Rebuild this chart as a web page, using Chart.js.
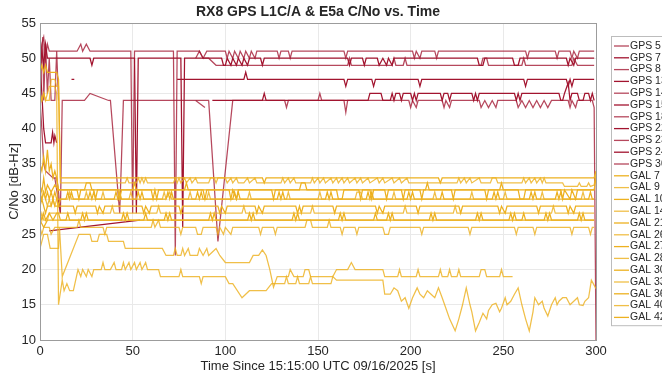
<!DOCTYPE html>
<html>
<head>
<meta charset="utf-8">
<script src="https://cdn.jsdelivr.net/npm/chart.js@4.4.1/dist/chart.umd.min.js"></script>
<style>
  html, body { margin: 0; padding: 0; background: #fff; overflow: hidden; }
  #wrap { width: 662px; height: 376px; }
</style>
</head>
<body>
<div id="wrap"><canvas id="cnoChart" width="662" height="376"></canvas></div>
<script>
const titleText = 'RX8 GPS L1C/A & E5a C/No vs. Time';
const xTitle = 'Time Since 15:15:00 UTC 09/16/2025 [s]';
const yTitle = 'C/No [dB-Hz]';
const xTicks = [0, 50, 100, 150, 200, 250, 300];
const yTicks = [10, 15, 20, 25, 30, 35, 40, 45, 50, 55];

const gpsNames = ['GPS 5', 'GPS 7', 'GPS 8', 'GPS 13', 'GPS 14', 'GPS 15', 'GPS 18', 'GPS 22', 'GPS 23', 'GPS 24', 'GPS 30'];
const galNames = ['GAL 7', 'GAL 9', 'GAL 10', 'GAL 14', 'GAL 21', 'GAL 26', 'GAL 27', 'GAL 28', 'GAL 30', 'GAL 33', 'GAL 36', 'GAL 40', 'GAL 42'];

// [time s, C/No dB-Hz] vertices, null = no track
const gps5 = [[0,50],[1,52],[2,53],[3,50],[4,52],[5,51],[20,51],[22,52],[23,51],[25,52],[27,51],[49,51],[50,28],[51,51],[72,51],[73,22],[74,51],[86,51],[88,50],[90,51],[100,51],[101,50],[102,51],[104,50],[105,51],[107,50],[108,51],[110,50],[111,51],[113,50],[114,51],[116,50],[117,51],[128,51],[129,50],[130,51],[134,51],[135,50],[136,51],[164,51],[165,50],[166,51],[201,51],[202,50],[203,51],[205,50],[206,51],[213,51],[214,50],[215,51],[262,51],[263,50],[264,51],[278,51],[279,50],[280,51],[286,51],[287,50],[288,51],[290,50],[291,51],[299,51]];
const gps7 = [[0,48],[1,51],[2,49],[3,52],[4,50],[27,50],[28,49],[29,50],[51,50],[52,28],[53,50],[76,50],[77,26],[78,50],[98,50],[99,49],[100,49],[101,50],[103,49],[104,50],[106,49],[107,50],[109,49],[110,50],[112,49],[113,50],[119,50],[120,49],[121,50],[166,50],[167,49],[168,50],[174,50],[175,49],[176,50],[182,50],[183,49],[185,50],[187,49],[188,50],[190,49],[191,50],[236,50],[237,49],[239,49],[240,50],[255,50],[256,49],[258,49],[259,50],[284,50],[285,49],[286,50],[288,49],[289,50],[299,50]];
const gps8 = [[84,50],[86,51],[88,50],[91,50],[95,49],[150,49],[166,49],[167,50],[168,49],[190,49],[191,50],[192,49],[196,49],[197,50],[198,49],[238,49],[239,50],[241,50],[242,49],[260,49],[261,50],[262,49],[287,49],[288,50],[290,49],[299,49]];
const gps13 = [[17,47],[18.5,47],[19,null],[74,47],[110,47],[111,48],[112,47],[164,47],[165,46],[166,47],[179,47],[180,46],[181,47],[204,47],[205,46],[206,47],[261,47],[262,46],[263,47],[284,47],[285,46],[286,47],[287,46],[288,47],[299,47]];
const gps14 = [[8,33],[11,28],[12,44],[24,44],[27,45],[37,44],[38,44],[43,28],[45,44],[91,44],[96,24],[104,44],[132,44],[133,43],[134,44],[150,44],[151,45],[152,44],[164,44],[165,42.3],[166,44],[199,44],[200,43],[201,44],[203,43],[204,44],[217,44],[218,43],[219,44],[221,43],[222,44],[237,44],[238,43],[240,44],[242,43],[244,44],[246,43],[247,44],[257,44],[258,43],[260,44],[262,43],[264,44],[266,43],[268,44],[270,43],[272,44],[274,43],[276,44],[285,44],[286,43],[287,44],[289,43],[290,44],[298,44],[299,43],[300,10]];
const gps15 = [[93,44],[120,44],[121,45],[122,44],[177,44],[178,45],[184,45],[185,44],[189,44],[190,45],[191,44],[192,45],[194,45],[195,44],[196,45],[200,45],[201,44],[202,45],[203,44],[204,45],[216,45],[217,44],[218,45],[220,45],[221,44],[222,45],[233,45],[234,44],[235,45],[236,44],[237,45],[256,45],[257,44],[258,45],[259,44],[260,45],[280,45],[281,44],[282,44],[283,45],[285,46.5],[286,44],[287,45],[290,45],[291,44],[293,44],[294,45],[296,45],[297,44],[298,45],[299,44]];
const gps18 = [[0,42],[1,51],[1.5,53],[2,44],[3,52],[4,45],[5,50],[6,44],[8,44],[9,51],[10,44]];
const gps22 = [[0,49],[1,45],[2,40],[3,38],[6,38],[6.8,39.5],[7.5,38],[8,39],[9,38]];
const gps23 = [[0,44],[1,40],[2,35],[3,34],[7,33],[9,33],[10,31],[11,28]];
const gps24 = [[5,25.5],[54,27]];
const gps30 = [[84,44],[89,43]];

const gal7 = [[0,48],[1,49],[2,48],[3,49],[4,48],[9,48],[10,47],[11,33],[120,33],[121,32.3],[122,33],[215,33],[216,32.3],[217,33],[299,33],[300,34]];
const gal9 = [[0,45],[1,44],[2,45],[3,44],[5,44],[6,47],[8,47],[9,46],[10,46],[11,32.3],[46,32.3],[47,33],[48,32.3],[52,32.3],[53,33],[54,32.3],[55,33],[56,32.3],[57,33],[58,32.3],[72,32.3],[73,33],[74,32.3],[75,33],[76,32.3],[78,33],[79,32.3],[81,33],[82,32.3],[84,33],[85,32.3],[91,32.3],[92,33],[94,33],[95,32.3],[96,33],[100,33],[101,32.3],[103,33],[104,32.3],[106,33],[107,32.3],[110,32.3],[112,33],[113,32.3],[116,33],[117,32.3],[130,32.3],[131,33],[132,32.3],[134,33],[135,32.3],[137,33],[138,32.3],[146,32.3],[147,33],[148,32.3],[150,33],[151,32.3],[153,33],[154,32.3],[157,33],[158,32.3],[160,33],[161,32.3],[163,33],[164,32.3],[166,33],[167,32.3],[170,33],[171,32.3],[173,33],[174,32.3],[177,33],[178,32.3],[182,33],[183,32.3],[185,33],[186,32.3],[190,33],[191,32.3],[194,33],[195,32.3],[198,33],[199,32.3],[225,32.3],[226,33],[227,32.3],[229,33],[230,32.3],[232,33],[233,32.3],[237,33],[238,32.3],[243,32.3],[244,33],[246,33],[247,32.3],[260,32.3],[261,33],[262,32.3],[264,33],[265,32.3],[267,33],[268,32.3],[270,33],[271,32.3],[272,33],[273,32.3],[282,32.3],[283,31.8],[290,31.8],[291,32.3],[292,31.8],[295,31.8],[296,32.3],[297,31.8],[299,32],[300,33.5]];
const gal10 = [[0,35],[1,34],[2,36],[3,34],[4,37],[5,34],[6,35],[7,33],[8,34],[9,33],[10,31.3],[20,31.3],[21,30],[22,31.3],[29,31.3],[30,30],[31,31.3],[42,31.3],[43,30],[44,31.3],[60,31.3],[61,30],[62,31.3],[63,30],[64,31.3],[88,31.3],[89,30],[90,31.3],[102,31.3],[103,30],[104,31.3],[106,30],[107,31.3],[125,31.3],[126,30],[127,31.3],[160,31.3],[161,30],[163,30],[164,31.3],[172,31.3],[173,30],[174,31.3],[178,31.3],[179,30],[180,31.3],[186,31.3],[187,30],[188,31.3],[195,31.3],[196,30],[197,31.3],[205,31.3],[206,30],[207,31.3],[222,31.3],[223,30],[224,31.3],[240,31.3],[241,30],[242,31.3],[258,31.3],[259,30],[261,30],[262,31.3],[281,31.3],[282,30],[283,31.3],[286,30],[287,31.3],[289,30],[290,31.3],[299,31.3]];
const gal14 = [[0,30],[1,30],[2,31],[3,30],[4,29],[5,30],[6,29],[7,30],[8,29],[9,30],[15,30],[16,31],[17,30],[24,30],[25,31],[26,30],[33,30],[34,31],[35,30],[48,30],[49,31],[50,30],[66,30],[67,31],[68,30],[70,31],[71,30],[80,30],[81,31],[82,30],[90,30],[91,31],[92,30],[112,30],[113,31],[114,30],[133,30],[134,31],[135,30],[150,30],[151,31],[152,30],[170,30],[171,31],[173,31],[174,30],[190,30],[191,31],[192,30],[212,30],[213,31],[214,30],[232,30],[233,31],[234,30],[250,30],[251,31],[252,30],[270,30],[271,31],[272,30],[292,30],[293,31],[294,30],[299,30]];
const gal21 = [[0,29],[1,30],[2,29],[3,28],[4,29],[6,29],[7,30],[8,29],[18,29],[19,28],[20,29],[30,29],[31,28],[32,29],[34,28],[35,29],[55,29],[56,28],[57,29],[59,28],[60,29],[75,29],[76,28],[77,29],[96,29],[97,28],[98,29],[100,28],[101,29],[116,29],[117,28],[118,29],[120,28],[121,29],[138,29],[139,28],[140,29],[141,28],[142,29],[158,29],[159,28],[160,29],[181,29],[182,28],[183,29],[185,28],[186,29],[203,29],[204,28],[205,29],[226,29],[227,28],[228,29],[247,29],[248,28],[249,29],[251,28],[252,29],[268,29],[269,28],[270,29],[284,29],[285,28],[286,29],[288,28],[289,29],[299,29]];
const gal26 = [[0,27],[1,28],[2,27],[4,27],[5,28],[38,28],[39,29],[40,28],[63,28],[64,29],[65,28],[109,28],[110,29],[111,28],[146,28],[147,29],[148,28],[196,28],[197,29],[198,28],[223,28],[224,29],[225,28],[276,28],[277,29],[278,28],[299,28]];
const gal27 = [[0,27],[2,26],[4,27],[56,27],[57,28],[58,27],[180,27],[181,28],[182,27],[260,27],[261,28],[262,27],[299,27]];
const gal28 = [[0,26],[1,25],[2,26],[5,26],[6,25],[8,26],[20,26],[21,27],[22,26],[34,26],[35,25],[36,26],[60,26],[61,27],[62,26],[64,27],[65,26],[75,26],[76,25],[77,26],[84,26],[85,25],[87,25],[88,26],[95,26],[96,25],[97,26],[99,25],[100,26],[103,25],[104,26],[118,26],[119,25],[120,26],[126,26],[127,25],[128,26],[143,26],[144,27],[146,27],[147,26],[155,26],[156,27],[157,26],[162,26],[163,25],[164,26],[170,26],[171,25],[172,26],[185,26],[186,25],[188,25],[189,26],[205,26],[206,25],[207,26],[231,26],[232,25],[233,26],[256,26],[257,25],[258,26],[266,26],[267,25],[268,26],[286,26],[287,25],[288,26],[296,26],[297,25],[298,26],[299,26]];
const gal30 = [[0,31],[1,30],[2,31],[3,30],[4,31],[5,30],[6,31],[7,30],[8,31],[9,30],[10,29],[11,30],[14,30],[15,31],[16,30],[17,31],[18,30],[26,30],[27,31],[28,30],[29,31],[30,30],[40,30],[41,31],[42,30],[43,31],[44,30],[52,30],[53,31],[54,30],[55,31],[56,30],[68,30],[69,31],[70,30],[71,31],[72,30],[84,30],[85,31],[86,30],[87,31],[88,30],[104,30],[105,31],[106,30],[107,31],[108,30],[128,30],[129,31],[130,30],[131,31],[132,30],[154,30],[155,31],[156,30],[157,31],[158,30],[176,30],[177,31],[178,30],[179,31],[180,30],[198,30],[199,31],[200,30],[201,31],[202,30],[216,30],[217,31],[218,30],[244,30],[245,31],[246,30],[247,31],[248,30],[264,30],[265,31],[266,30],[267,31],[268,30],[278,30],[279,31],[280,30],[281,31],[282,30],[296,30],[297,31],[298,30],[299,30]];
const gal33 = [[0,23],[1,24],[2,25],[4,25],[5.5,23],[10,23],[10.5,26],[12,19],[21,25],[27,25],[28,24],[31,24],[32,25],[36,25],[37,24],[45,24],[46,23],[66,23],[68,22],[72,22],[73,23],[74,22],[76,22],[77,23],[78,22],[80,23],[81,22],[85,22],[86,23],[88,22],[90,23],[91,22],[95,23],[97,22],[100,21],[113,21],[115,22],[118,22],[120,22.8],[122,22],[124,20],[126,17.5],[128,19],[134,19],[135,20],[137,19],[142,19],[143,20],[145,20],[146,19],[158,19],[160,20],[166,20],[168,21],[170,20],[185,20],[186,19],[193,19],[194,20],[195,19],[203,19],[204,20],[205,19],[215,19],[216,20],[217,19],[220,19],[221,20],[222,19],[225,19],[226,20],[227,19],[237,19],[238,20],[240,20],[241,19],[248,19],[249,20],[250,19],[255,19]];
const gal36 = [[0,28],[1,27],[2,28],[3,27],[5,28],[7,27],[9,28],[10,28],[11,27],[14,27],[15,28],[16,27],[22,27],[23,28],[24,27],[25,28],[26,27],[44,27],[45,28],[46,27],[47,28],[48,27],[67,27],[68,28],[69,27],[70,28],[71,27],[91,27],[92,28],[93,27],[94,28],[95,27],[112,27],[113,28],[114,27],[115,28],[116,27],[136,27],[137,28],[138,27],[139,28],[140,27],[161,27],[162,28],[163,27],[164,28],[165,27],[187,27],[188,28],[189,27],[190,28],[191,27],[210,27],[211,28],[212,27],[213,28],[214,27],[235,27],[236,28],[237,27],[238,28],[239,27],[253,27],[254,28],[255,27],[256,28],[257,27],[272,27],[273,28],[274,27],[275,28],[276,27],[290,27],[291,28],[292,27],[293,28],[294,27],[299,27]];
const gal40 = [[0,45],[1,44],[2,45],[3,44],[5,46],[8,46],[9,45],[10,15],[12,18.5],[13,17],[14.5,18],[16,17],[18,17],[20.5,20],[22,19],[23,20],[25,19],[26,20],[28,19],[29,20],[33,20],[34,21],[35,20],[38,20],[40,21],[41,20],[44,20],[45,21],[46,20],[48,21],[49,20],[51,21],[52,20],[54,21],[55,20],[57,21],[58,20],[64,20],[65,19],[75,19],[76,20],[77,19],[86,19],[87,18],[88,19],[100,19],[102,18],[104,18],[109,16],[113,17],[122,17],[125,18],[132,18],[133,19],[134,18],[138,18],[139,19],[140,18],[145,18],[146,19],[147,18],[157,18],[158,19],[160,18.5],[185,18.5],[186,16.5],[189,16.5],[191,17.4],[193,17],[195,15.5],[197,16],[199,14.5],[201,16],[203.5,17.4],[205,16.5],[207,16],[209,17],[211,16.5],[213,16],[215,17.4],[217,16],[219,14.5],[221,13],[224,11.3],[226,13],[228,15],[230,17.4],[232,15],[233,14],[235,11.3],[237,12.5],[239,13.8],[241,13],[242,14.2],[244,15],[246,15.2],[248,14],[249,14.5],[251,16],[252,15],[254,15.5],[256,16.5],[258,17.4],[260,15],[262,13],[264,11.3],[266,14],[267,16],[269,15],[271,15.5],[272,14.5],[274,13.4],[276,15],[278,16],[279,15],[280,15.5],[282,16],[284,16],[286,15],[288,15.5],[290,16],[291,15],[293,14.9],[294,15.5],[296,16],[297.5,18.5],[300,17.3]];
const gal42 = [[0,32],[1,31],[2,33],[3,31],[4,32],[6,31],[8,32],[10,31.3],[24,31.3],[25,32.3],[27,32.3],[28,31.3],[50,31.3],[51,32.3],[52,31.3],[78,31.3],[79,32.3],[80,31.3],[140,31.3],[141,32.3],[143,32.3],[144,31.3],[208,31.3],[209,32.3],[210,31.3],[248,31.3],[249,32.3],[250,31.3],[299,31.3],[300,33]];

const gpsSeries = [gps5, gps7, gps8, gps13, gps14, gps15, gps18, gps22, gps23, gps24, gps30];
const galSeries = [gal7, gal9, gal10, gal14, gal21, gal26, gal27, gal28, gal30, gal33, gal36, gal40, gal42];

const gpsColors = ['rgba(162,20,47,0.78)', '#A2142F'];
const galColors = ['#EDB120', 'rgba(237,177,32,0.82)'];

const datasets = [];
gpsSeries.forEach((d, i) => datasets.push({ label: gpsNames[i], data: d, borderColor: gpsColors[i % 2] }));
galSeries.forEach((d, i) => datasets.push({ label: galNames[i], data: d, borderColor: galColors[i % 2] }));
datasets.forEach((ds, i) => {
    ds.borderWidth = 1.25;
    ds.pointRadius = 0;
    ds.tension = 0;
    ds.fill = false;
    ds.spanGaps = false;
    ds.order = datasets.length - i; // later series on top, like MATLAB
});

const font = '"Liberation Sans", Arial, Helvetica, sans-serif';

// axes box, title and the boxed legend on the right
const framePlugin = {
    id: 'frame',
    afterDraw(chart) {
        const { ctx, chartArea: a } = chart;
        ctx.save();
        ctx.strokeStyle = '#9c9c9c';
        ctx.lineWidth = 1;
        ctx.strokeRect(Math.round(a.left) + 0.5, Math.round(a.top) + 0.5, Math.round(a.right - a.left), Math.round(a.bottom - a.top));

        ctx.fillStyle = '#262626';
        ctx.font = 'bold 14px ' + font;
        ctx.textAlign = 'center';
        ctx.textBaseline = 'middle';
        ctx.fillText(titleText, (a.left + a.right) / 2, 12);

        const lx = 611, ly = 36, rowH = 11.8;
        const h = chart.data.datasets.length * rowH + 6;
        ctx.fillStyle = '#fff';
        ctx.fillRect(lx, ly, 90, h);
        ctx.strokeStyle = '#bcbcbc';
        ctx.strokeRect(lx + 0.5, ly + 0.5, 90, h);
        ctx.font = '10.5px ' + font;
        ctx.textAlign = 'left';
        chart.data.datasets.forEach((ds, i) => {
            const y = ly + 10 + i * rowH;
            ctx.strokeStyle = ds.borderColor;
            ctx.lineWidth = 1.3;
            ctx.beginPath();
            ctx.moveTo(lx + 3, y);
            ctx.lineTo(lx + 18, y);
            ctx.stroke();
            ctx.fillStyle = '#262626';
            ctx.fillText(ds.label, lx + 19, y);
        });
        ctx.restore();
    }
};

new Chart(document.getElementById('cnoChart'), {
    type: 'line',
    data: { datasets },
    options: {
        responsive: false,
        animation: false,
        events: [],
        layout: { padding: { top: 23, right: 66, left: 0, bottom: 0 } },
        plugins: { legend: { display: false }, title: { display: false }, tooltip: { enabled: false } },
        scales: {
            x: {
                type: 'linear',
                min: 0,
                max: 300,
                afterBuildTicks: s => { s.ticks = xTicks.map(v => ({ value: v })); },
                afterFit: s => { s.height = 36; },
                grid: { color: '#e9e9e9', drawTicks: false },
                border: { display: false },
                ticks: { color: '#262626', font: { size: 13, family: font }, padding: 4, maxRotation: 0 },
                title: { display: true, text: xTitle, color: '#262626', font: { size: 13, family: font }, padding: { top: 0, bottom: 2 } }
            },
            y: {
                type: 'linear',
                min: 10,
                max: 55,
                afterBuildTicks: s => { s.ticks = yTicks.map(v => ({ value: v })); },
                afterFit: s => { s.width = 40; },
                grid: { color: '#e9e9e9', drawTicks: false },
                border: { display: false },
                ticks: { color: '#262626', font: { size: 13, family: font }, padding: 4 },
                title: { display: true, text: yTitle, color: '#262626', font: { size: 13, family: font }, padding: { top: 7, bottom: 0 } }
            }
        }
    },
    plugins: [framePlugin]
});
</script>
</body>
</html>
